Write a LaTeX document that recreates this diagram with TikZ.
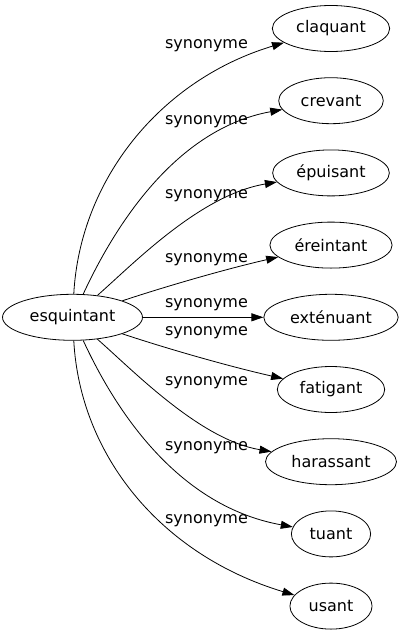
\documentclass[tikz,border=0pt]{standalone}
\usepackage{fontspec}
\setmainfont{DejaVu Sans}
\usetikzlibrary{arrows.meta,shapes.geometric}
\begin{document}
\begin{tikzpicture}[x=1pt,y=-1pt,
  font=\fontsize{16}{19}\selectfont,
  word/.style={ellipse,draw,line width=0.8pt,inner xsep=6.7pt,inner ysep=0pt,minimum height=46pt},
  rel/.style={draw,line width=0.8pt,-{Triangle[length=12pt,width=8pt]}},
  lab/.style={inner sep=0pt}]
\useasboundingbox (0,0) rectangle (402,635);
\node[word] (esq) at (72.5,317.3) {esquintant};
\node[word] (n1) at (331,28.5) {claquant};
\node[word] (n2) at (331,100.7) {crevant};
\node[word] (n3) at (331,172.9) {épuisant};
\node[word] (n4) at (331,245.1) {éreintant};
\node[word] (n5) at (331,317.3) {exténuant};
\node[word] (n6) at (331,389.5) {fatigant};
\node[word] (n7) at (331,461.7) {harassant};
\node[word] (n8) at (331,533.9) {tuant};
\node[word] (n9) at (331,606.1) {usant};
\draw[rel] (esq) .. controls (80,180) and (160,80) .. (n1);
\draw[rel] (esq) .. controls (109.25,237.8) and (170,130) .. (n2);
\draw[rel] (esq) .. controls (133.75,263.5) and (200,195) .. (n3);
\draw[rel] (esq) .. controls (170,285) and (230,268) .. (n4);
\draw[rel] (esq) -- (n5);
\draw[rel] (esq) .. controls (170,349.6) and (230,366.6) .. (n6);
\draw[rel] (esq) .. controls (133.75,371.1) and (200,439.6) .. (n7);
\draw[rel] (esq) .. controls (109.25,396.8) and (170,504.6) .. (n8);
\draw[rel] (esq) .. controls (80,454.6) and (160,554.6) .. (n9);
\node[lab] (l1) at (206.5,46) {synonyme};
\node[lab] (l2) at (206.5,121.7) {synonyme};
\node[lab] (l3) at (206.5,195.7) {synonyme};
\node[lab] (l4) at (206.5,259.3) {synonyme};
\node[lab] (l5) at (206.5,305) {synonyme};
\node[lab] (l6) at (206.5,333) {synonyme};
\node[lab] (l7) at (206.5,382.7) {synonyme};
\node[lab] (l8) at (206.5,447.7) {synonyme};
\node[lab] (l9) at (206.5,520.7) {synonyme};
\end{tikzpicture}
\end{document}
